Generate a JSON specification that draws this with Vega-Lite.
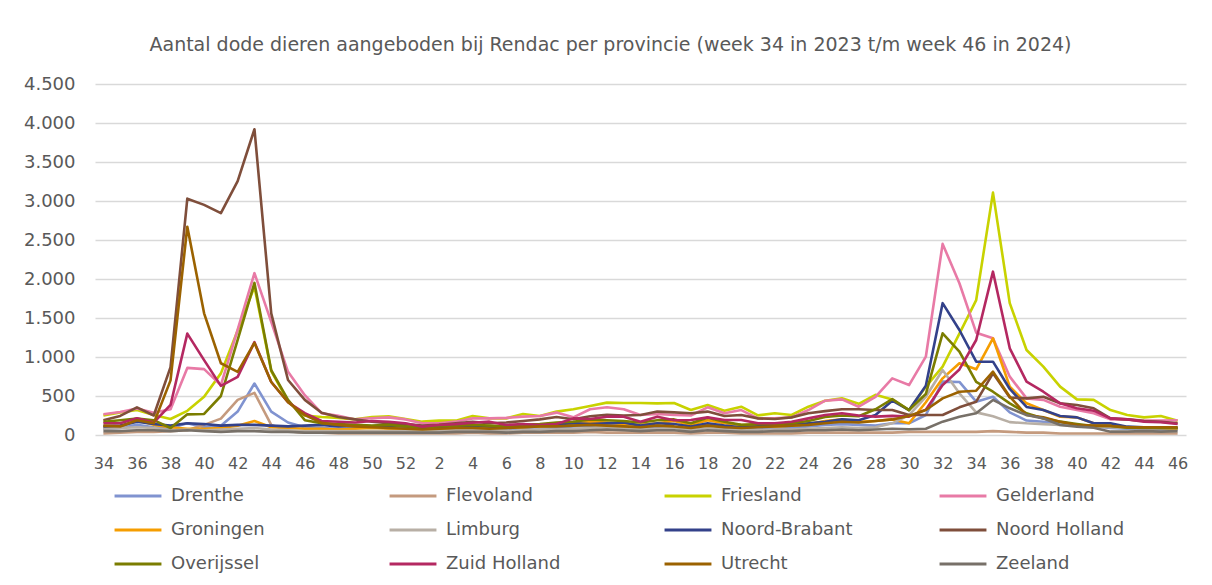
{
"$schema": "https://vega.github.io/schema/vega-lite/v6.json",
"width": 1091, "height": 351,
"autosize": {"type": "none"},
"padding": {"left": 95, "top": 84, "right": 26, "bottom": 150},
"background": "white",
"title": {"text": "Aantal dode dieren aangeboden bij Rendac per provincie (week 34 in 2023 t/m week 46 in 2024)", "font": "DejaVu Sans", "fontSize": 19, "fontWeight": "normal", "color": "#595959", "anchor": "middle", "frame": "group", "dx": -30, "offset": 20},
"data": {"values": [
{"week":"2023-34","provincie":"Drenthe","aantal":80},{"week":"2023-35","provincie":"Drenthe","aantal":90},{"week":"2023-36","provincie":"Drenthe","aantal":130},{"week":"2023-37","provincie":"Drenthe","aantal":100},{"week":"2023-38","provincie":"Drenthe","aantal":90},{"week":"2023-39","provincie":"Drenthe","aantal":150},{"week":"2023-40","provincie":"Drenthe","aantal":100},{"week":"2023-41","provincie":"Drenthe","aantal":120},{"week":"2023-42","provincie":"Drenthe","aantal":300},{"week":"2023-43","provincie":"Drenthe","aantal":660},{"week":"2023-44","provincie":"Drenthe","aantal":300},{"week":"2023-45","provincie":"Drenthe","aantal":160},{"week":"2023-46","provincie":"Drenthe","aantal":100},{"week":"2023-47","provincie":"Drenthe","aantal":90},{"week":"2023-48","provincie":"Drenthe","aantal":80},{"week":"2023-49","provincie":"Drenthe","aantal":90},{"week":"2023-50","provincie":"Drenthe","aantal":100},{"week":"2023-51","provincie":"Drenthe","aantal":90},{"week":"2023-52","provincie":"Drenthe","aantal":80},
{"week":"2024-01","provincie":"Drenthe","aantal":60},{"week":"2024-02","provincie":"Drenthe","aantal":70},{"week":"2024-03","provincie":"Drenthe","aantal":80},{"week":"2024-04","provincie":"Drenthe","aantal":90},{"week":"2024-05","provincie":"Drenthe","aantal":80},{"week":"2024-06","provincie":"Drenthe","aantal":70},{"week":"2024-07","provincie":"Drenthe","aantal":90},{"week":"2024-08","provincie":"Drenthe","aantal":100},{"week":"2024-09","provincie":"Drenthe","aantal":90},{"week":"2024-10","provincie":"Drenthe","aantal":110},{"week":"2024-11","provincie":"Drenthe","aantal":120},{"week":"2024-12","provincie":"Drenthe","aantal":130},{"week":"2024-13","provincie":"Drenthe","aantal":120},{"week":"2024-14","provincie":"Drenthe","aantal":90},{"week":"2024-15","provincie":"Drenthe","aantal":110},{"week":"2024-16","provincie":"Drenthe","aantal":100},{"week":"2024-17","provincie":"Drenthe","aantal":80},{"week":"2024-18","provincie":"Drenthe","aantal":130},{"week":"2024-19","provincie":"Drenthe","aantal":90},{"week":"2024-20","provincie":"Drenthe","aantal":80},{"week":"2024-21","provincie":"Drenthe","aantal":70},{"week":"2024-22","provincie":"Drenthe","aantal":80},{"week":"2024-23","provincie":"Drenthe","aantal":90},{"week":"2024-24","provincie":"Drenthe","aantal":110},{"week":"2024-25","provincie":"Drenthe","aantal":130},{"week":"2024-26","provincie":"Drenthe","aantal":140},{"week":"2024-27","provincie":"Drenthe","aantal":130},{"week":"2024-28","provincie":"Drenthe","aantal":120},{"week":"2024-29","provincie":"Drenthe","aantal":150},{"week":"2024-30","provincie":"Drenthe","aantal":150},{"week":"2024-31","provincie":"Drenthe","aantal":256},{"week":"2024-32","provincie":"Drenthe","aantal":684},{"week":"2024-33","provincie":"Drenthe","aantal":680},{"week":"2024-34","provincie":"Drenthe","aantal":427},{"week":"2024-35","provincie":"Drenthe","aantal":491},{"week":"2024-36","provincie":"Drenthe","aantal":290},{"week":"2024-37","provincie":"Drenthe","aantal":185},{"week":"2024-38","provincie":"Drenthe","aantal":170},{"week":"2024-39","provincie":"Drenthe","aantal":150},{"week":"2024-40","provincie":"Drenthe","aantal":130},{"week":"2024-41","provincie":"Drenthe","aantal":110},{"week":"2024-42","provincie":"Drenthe","aantal":90},{"week":"2024-43","provincie":"Drenthe","aantal":80},{"week":"2024-44","provincie":"Drenthe","aantal":70},{"week":"2024-45","provincie":"Drenthe","aantal":70},{"week":"2024-46","provincie":"Drenthe","aantal":70},
{"week":"2023-34","provincie":"Flevoland","aantal":20},{"week":"2023-35","provincie":"Flevoland","aantal":30},{"week":"2023-36","provincie":"Flevoland","aantal":40},{"week":"2023-37","provincie":"Flevoland","aantal":40},{"week":"2023-38","provincie":"Flevoland","aantal":50},{"week":"2023-39","provincie":"Flevoland","aantal":60},{"week":"2023-40","provincie":"Flevoland","aantal":130},{"week":"2023-41","provincie":"Flevoland","aantal":210},{"week":"2023-42","provincie":"Flevoland","aantal":450},{"week":"2023-43","provincie":"Flevoland","aantal":540},{"week":"2023-44","provincie":"Flevoland","aantal":130},{"week":"2023-45","provincie":"Flevoland","aantal":50},{"week":"2023-46","provincie":"Flevoland","aantal":30},{"week":"2023-47","provincie":"Flevoland","aantal":30},{"week":"2023-48","provincie":"Flevoland","aantal":20},{"week":"2023-49","provincie":"Flevoland","aantal":20},{"week":"2023-50","provincie":"Flevoland","aantal":20},{"week":"2023-51","provincie":"Flevoland","aantal":20},{"week":"2023-52","provincie":"Flevoland","aantal":20},
{"week":"2024-01","provincie":"Flevoland","aantal":20},{"week":"2024-02","provincie":"Flevoland","aantal":20},{"week":"2024-03","provincie":"Flevoland","aantal":20},{"week":"2024-04","provincie":"Flevoland","aantal":30},{"week":"2024-05","provincie":"Flevoland","aantal":20},{"week":"2024-06","provincie":"Flevoland","aantal":20},{"week":"2024-07","provincie":"Flevoland","aantal":30},{"week":"2024-08","provincie":"Flevoland","aantal":30},{"week":"2024-09","provincie":"Flevoland","aantal":30},{"week":"2024-10","provincie":"Flevoland","aantal":30},{"week":"2024-11","provincie":"Flevoland","aantal":40},{"week":"2024-12","provincie":"Flevoland","aantal":30},{"week":"2024-13","provincie":"Flevoland","aantal":30},{"week":"2024-14","provincie":"Flevoland","aantal":30},{"week":"2024-15","provincie":"Flevoland","aantal":30},{"week":"2024-16","provincie":"Flevoland","aantal":30},{"week":"2024-17","provincie":"Flevoland","aantal":20},{"week":"2024-18","provincie":"Flevoland","aantal":30},{"week":"2024-19","provincie":"Flevoland","aantal":30},{"week":"2024-20","provincie":"Flevoland","aantal":20},{"week":"2024-21","provincie":"Flevoland","aantal":20},{"week":"2024-22","provincie":"Flevoland","aantal":20},{"week":"2024-23","provincie":"Flevoland","aantal":20},{"week":"2024-24","provincie":"Flevoland","aantal":30},{"week":"2024-25","provincie":"Flevoland","aantal":30},{"week":"2024-26","provincie":"Flevoland","aantal":30},{"week":"2024-27","provincie":"Flevoland","aantal":30},{"week":"2024-28","provincie":"Flevoland","aantal":30},{"week":"2024-29","provincie":"Flevoland","aantal":30},{"week":"2024-30","provincie":"Flevoland","aantal":40},{"week":"2024-31","provincie":"Flevoland","aantal":40},{"week":"2024-32","provincie":"Flevoland","aantal":40},{"week":"2024-33","provincie":"Flevoland","aantal":40},{"week":"2024-34","provincie":"Flevoland","aantal":40},{"week":"2024-35","provincie":"Flevoland","aantal":50},{"week":"2024-36","provincie":"Flevoland","aantal":40},{"week":"2024-37","provincie":"Flevoland","aantal":30},{"week":"2024-38","provincie":"Flevoland","aantal":30},{"week":"2024-39","provincie":"Flevoland","aantal":20},{"week":"2024-40","provincie":"Flevoland","aantal":20},{"week":"2024-41","provincie":"Flevoland","aantal":20},{"week":"2024-42","provincie":"Flevoland","aantal":20},{"week":"2024-43","provincie":"Flevoland","aantal":20},{"week":"2024-44","provincie":"Flevoland","aantal":20},{"week":"2024-45","provincie":"Flevoland","aantal":20},{"week":"2024-46","provincie":"Flevoland","aantal":20},
{"week":"2023-34","provincie":"Friesland","aantal":250},{"week":"2023-35","provincie":"Friesland","aantal":290},{"week":"2023-36","provincie":"Friesland","aantal":320},{"week":"2023-37","provincie":"Friesland","aantal":256},{"week":"2023-38","provincie":"Friesland","aantal":205},{"week":"2023-39","provincie":"Friesland","aantal":310},{"week":"2023-40","provincie":"Friesland","aantal":490},{"week":"2023-41","provincie":"Friesland","aantal":790},{"week":"2023-42","provincie":"Friesland","aantal":1340},{"week":"2023-43","provincie":"Friesland","aantal":1900},{"week":"2023-44","provincie":"Friesland","aantal":820},{"week":"2023-45","provincie":"Friesland","aantal":430},{"week":"2023-46","provincie":"Friesland","aantal":250},{"week":"2023-47","provincie":"Friesland","aantal":230},{"week":"2023-48","provincie":"Friesland","aantal":220},{"week":"2023-49","provincie":"Friesland","aantal":200},{"week":"2023-50","provincie":"Friesland","aantal":230},{"week":"2023-51","provincie":"Friesland","aantal":240},{"week":"2023-52","provincie":"Friesland","aantal":205},
{"week":"2024-01","provincie":"Friesland","aantal":171},{"week":"2024-02","provincie":"Friesland","aantal":184},{"week":"2024-03","provincie":"Friesland","aantal":184},{"week":"2024-04","provincie":"Friesland","aantal":243},{"week":"2024-05","provincie":"Friesland","aantal":213},{"week":"2024-06","provincie":"Friesland","aantal":213},{"week":"2024-07","provincie":"Friesland","aantal":270},{"week":"2024-08","provincie":"Friesland","aantal":243},{"week":"2024-09","provincie":"Friesland","aantal":300},{"week":"2024-10","provincie":"Friesland","aantal":330},{"week":"2024-11","provincie":"Friesland","aantal":372},{"week":"2024-12","provincie":"Friesland","aantal":415},{"week":"2024-13","provincie":"Friesland","aantal":410},{"week":"2024-14","provincie":"Friesland","aantal":410},{"week":"2024-15","provincie":"Friesland","aantal":405},{"week":"2024-16","provincie":"Friesland","aantal":410},{"week":"2024-17","provincie":"Friesland","aantal":320},{"week":"2024-18","provincie":"Friesland","aantal":385},{"week":"2024-19","provincie":"Friesland","aantal":312},{"week":"2024-20","provincie":"Friesland","aantal":363},{"week":"2024-21","provincie":"Friesland","aantal":252},{"week":"2024-22","provincie":"Friesland","aantal":278},{"week":"2024-23","provincie":"Friesland","aantal":256},{"week":"2024-24","provincie":"Friesland","aantal":363},{"week":"2024-25","provincie":"Friesland","aantal":440},{"week":"2024-26","provincie":"Friesland","aantal":470},{"week":"2024-27","provincie":"Friesland","aantal":400},{"week":"2024-28","provincie":"Friesland","aantal":515},{"week":"2024-29","provincie":"Friesland","aantal":455},{"week":"2024-30","provincie":"Friesland","aantal":320},{"week":"2024-31","provincie":"Friesland","aantal":620},{"week":"2024-32","provincie":"Friesland","aantal":876},{"week":"2024-33","provincie":"Friesland","aantal":1300},{"week":"2024-34","provincie":"Friesland","aantal":1730},{"week":"2024-35","provincie":"Friesland","aantal":3107},{"week":"2024-36","provincie":"Friesland","aantal":1690},{"week":"2024-37","provincie":"Friesland","aantal":1090},{"week":"2024-38","provincie":"Friesland","aantal":876},{"week":"2024-39","provincie":"Friesland","aantal":620},{"week":"2024-40","provincie":"Friesland","aantal":457},{"week":"2024-41","provincie":"Friesland","aantal":450},{"week":"2024-42","provincie":"Friesland","aantal":320},{"week":"2024-43","provincie":"Friesland","aantal":256},{"week":"2024-44","provincie":"Friesland","aantal":226},{"week":"2024-45","provincie":"Friesland","aantal":243},{"week":"2024-46","provincie":"Friesland","aantal":184},
{"week":"2023-34","provincie":"Gelderland","aantal":265},{"week":"2023-35","provincie":"Gelderland","aantal":295},{"week":"2023-36","provincie":"Gelderland","aantal":340},{"week":"2023-37","provincie":"Gelderland","aantal":285},{"week":"2023-38","provincie":"Gelderland","aantal":330},{"week":"2023-39","provincie":"Gelderland","aantal":860},{"week":"2023-40","provincie":"Gelderland","aantal":845},{"week":"2023-41","provincie":"Gelderland","aantal":640},{"week":"2023-42","provincie":"Gelderland","aantal":1350},{"week":"2023-43","provincie":"Gelderland","aantal":2075},{"week":"2023-44","provincie":"Gelderland","aantal":1450},{"week":"2023-45","provincie":"Gelderland","aantal":810},{"week":"2023-46","provincie":"Gelderland","aantal":510},{"week":"2023-47","provincie":"Gelderland","aantal":280},{"week":"2023-48","provincie":"Gelderland","aantal":245},{"week":"2023-49","provincie":"Gelderland","aantal":200},{"week":"2023-50","provincie":"Gelderland","aantal":215},{"week":"2023-51","provincie":"Gelderland","aantal":226},{"week":"2023-52","provincie":"Gelderland","aantal":200},
{"week":"2024-01","provincie":"Gelderland","aantal":150},{"week":"2024-02","provincie":"Gelderland","aantal":150},{"week":"2024-03","provincie":"Gelderland","aantal":171},{"week":"2024-04","provincie":"Gelderland","aantal":213},{"week":"2024-05","provincie":"Gelderland","aantal":213},{"week":"2024-06","provincie":"Gelderland","aantal":220},{"week":"2024-07","provincie":"Gelderland","aantal":235},{"week":"2024-08","provincie":"Gelderland","aantal":243},{"week":"2024-09","provincie":"Gelderland","aantal":287},{"week":"2024-10","provincie":"Gelderland","aantal":226},{"week":"2024-11","provincie":"Gelderland","aantal":330},{"week":"2024-12","provincie":"Gelderland","aantal":355},{"week":"2024-13","provincie":"Gelderland","aantal":330},{"week":"2024-14","provincie":"Gelderland","aantal":256},{"week":"2024-15","provincie":"Gelderland","aantal":270},{"week":"2024-16","provincie":"Gelderland","aantal":256},{"week":"2024-17","provincie":"Gelderland","aantal":250},{"week":"2024-18","provincie":"Gelderland","aantal":355},{"week":"2024-19","provincie":"Gelderland","aantal":278},{"week":"2024-20","provincie":"Gelderland","aantal":320},{"week":"2024-21","provincie":"Gelderland","aantal":213},{"week":"2024-22","provincie":"Gelderland","aantal":215},{"week":"2024-23","provincie":"Gelderland","aantal":226},{"week":"2024-24","provincie":"Gelderland","aantal":320},{"week":"2024-25","provincie":"Gelderland","aantal":440},{"week":"2024-26","provincie":"Gelderland","aantal":457},{"week":"2024-27","provincie":"Gelderland","aantal":363},{"week":"2024-28","provincie":"Gelderland","aantal":490},{"week":"2024-29","provincie":"Gelderland","aantal":726},{"week":"2024-30","provincie":"Gelderland","aantal":640},{"week":"2024-31","provincie":"Gelderland","aantal":1004},{"week":"2024-32","provincie":"Gelderland","aantal":2450},{"week":"2024-33","provincie":"Gelderland","aantal":1945},{"week":"2024-34","provincie":"Gelderland","aantal":1312},{"week":"2024-35","provincie":"Gelderland","aantal":1240},{"week":"2024-36","provincie":"Gelderland","aantal":748},{"week":"2024-37","provincie":"Gelderland","aantal":470},{"week":"2024-38","provincie":"Gelderland","aantal":450},{"week":"2024-39","provincie":"Gelderland","aantal":363},{"week":"2024-40","provincie":"Gelderland","aantal":320},{"week":"2024-41","provincie":"Gelderland","aantal":280},{"week":"2024-42","provincie":"Gelderland","aantal":200},{"week":"2024-43","provincie":"Gelderland","aantal":200},{"week":"2024-44","provincie":"Gelderland","aantal":184},{"week":"2024-45","provincie":"Gelderland","aantal":184},{"week":"2024-46","provincie":"Gelderland","aantal":190},
{"week":"2023-34","provincie":"Groningen","aantal":100},{"week":"2023-35","provincie":"Groningen","aantal":110},{"week":"2023-36","provincie":"Groningen","aantal":190},{"week":"2023-37","provincie":"Groningen","aantal":130},{"week":"2023-38","provincie":"Groningen","aantal":100},{"week":"2023-39","provincie":"Groningen","aantal":80},{"week":"2023-40","provincie":"Groningen","aantal":80},{"week":"2023-41","provincie":"Groningen","aantal":90},{"week":"2023-42","provincie":"Groningen","aantal":120},{"week":"2023-43","provincie":"Groningen","aantal":180},{"week":"2023-44","provincie":"Groningen","aantal":100},{"week":"2023-45","provincie":"Groningen","aantal":90},{"week":"2023-46","provincie":"Groningen","aantal":80},{"week":"2023-47","provincie":"Groningen","aantal":80},{"week":"2023-48","provincie":"Groningen","aantal":70},{"week":"2023-49","provincie":"Groningen","aantal":80},{"week":"2023-50","provincie":"Groningen","aantal":90},{"week":"2023-51","provincie":"Groningen","aantal":80},{"week":"2023-52","provincie":"Groningen","aantal":70},
{"week":"2024-01","provincie":"Groningen","aantal":70},{"week":"2024-02","provincie":"Groningen","aantal":80},{"week":"2024-03","provincie":"Groningen","aantal":90},{"week":"2024-04","provincie":"Groningen","aantal":100},{"week":"2024-05","provincie":"Groningen","aantal":90},{"week":"2024-06","provincie":"Groningen","aantal":90},{"week":"2024-07","provincie":"Groningen","aantal":100},{"week":"2024-08","provincie":"Groningen","aantal":110},{"week":"2024-09","provincie":"Groningen","aantal":120},{"week":"2024-10","provincie":"Groningen","aantal":150},{"week":"2024-11","provincie":"Groningen","aantal":170},{"week":"2024-12","provincie":"Groningen","aantal":160},{"week":"2024-13","provincie":"Groningen","aantal":140},{"week":"2024-14","provincie":"Groningen","aantal":130},{"week":"2024-15","provincie":"Groningen","aantal":150},{"week":"2024-16","provincie":"Groningen","aantal":180},{"week":"2024-17","provincie":"Groningen","aantal":130},{"week":"2024-18","provincie":"Groningen","aantal":190},{"week":"2024-19","provincie":"Groningen","aantal":150},{"week":"2024-20","provincie":"Groningen","aantal":130},{"week":"2024-21","provincie":"Groningen","aantal":120},{"week":"2024-22","provincie":"Groningen","aantal":110},{"week":"2024-23","provincie":"Groningen","aantal":120},{"week":"2024-24","provincie":"Groningen","aantal":140},{"week":"2024-25","provincie":"Groningen","aantal":180},{"week":"2024-26","provincie":"Groningen","aantal":200},{"week":"2024-27","provincie":"Groningen","aantal":170},{"week":"2024-28","provincie":"Groningen","aantal":180},{"week":"2024-29","provincie":"Groningen","aantal":200},{"week":"2024-30","provincie":"Groningen","aantal":150},{"week":"2024-31","provincie":"Groningen","aantal":420},{"week":"2024-32","provincie":"Groningen","aantal":726},{"week":"2024-33","provincie":"Groningen","aantal":919},{"week":"2024-34","provincie":"Groningen","aantal":842},{"week":"2024-35","provincie":"Groningen","aantal":1240},{"week":"2024-36","provincie":"Groningen","aantal":620},{"week":"2024-37","provincie":"Groningen","aantal":406},{"week":"2024-38","provincie":"Groningen","aantal":320},{"week":"2024-39","provincie":"Groningen","aantal":235},{"week":"2024-40","provincie":"Groningen","aantal":226},{"week":"2024-41","provincie":"Groningen","aantal":150},{"week":"2024-42","provincie":"Groningen","aantal":141},{"week":"2024-43","provincie":"Groningen","aantal":93},{"week":"2024-44","provincie":"Groningen","aantal":90},{"week":"2024-45","provincie":"Groningen","aantal":90},{"week":"2024-46","provincie":"Groningen","aantal":80},
{"week":"2023-34","provincie":"Limburg","aantal":80},{"week":"2023-35","provincie":"Limburg","aantal":90},{"week":"2023-36","provincie":"Limburg","aantal":100},{"week":"2023-37","provincie":"Limburg","aantal":90},{"week":"2023-38","provincie":"Limburg","aantal":60},{"week":"2023-39","provincie":"Limburg","aantal":70},{"week":"2023-40","provincie":"Limburg","aantal":60},{"week":"2023-41","provincie":"Limburg","aantal":70},{"week":"2023-42","provincie":"Limburg","aantal":80},{"week":"2023-43","provincie":"Limburg","aantal":90},{"week":"2023-44","provincie":"Limburg","aantal":70},{"week":"2023-45","provincie":"Limburg","aantal":60},{"week":"2023-46","provincie":"Limburg","aantal":50},{"week":"2023-47","provincie":"Limburg","aantal":50},{"week":"2023-48","provincie":"Limburg","aantal":50},{"week":"2023-49","provincie":"Limburg","aantal":50},{"week":"2023-50","provincie":"Limburg","aantal":50},{"week":"2023-51","provincie":"Limburg","aantal":50},{"week":"2023-52","provincie":"Limburg","aantal":50},
{"week":"2024-01","provincie":"Limburg","aantal":50},{"week":"2024-02","provincie":"Limburg","aantal":50},{"week":"2024-03","provincie":"Limburg","aantal":60},{"week":"2024-04","provincie":"Limburg","aantal":60},{"week":"2024-05","provincie":"Limburg","aantal":60},{"week":"2024-06","provincie":"Limburg","aantal":50},{"week":"2024-07","provincie":"Limburg","aantal":60},{"week":"2024-08","provincie":"Limburg","aantal":70},{"week":"2024-09","provincie":"Limburg","aantal":70},{"week":"2024-10","provincie":"Limburg","aantal":80},{"week":"2024-11","provincie":"Limburg","aantal":90},{"week":"2024-12","provincie":"Limburg","aantal":100},{"week":"2024-13","provincie":"Limburg","aantal":90},{"week":"2024-14","provincie":"Limburg","aantal":70},{"week":"2024-15","provincie":"Limburg","aantal":80},{"week":"2024-16","provincie":"Limburg","aantal":90},{"week":"2024-17","provincie":"Limburg","aantal":60},{"week":"2024-18","provincie":"Limburg","aantal":90},{"week":"2024-19","provincie":"Limburg","aantal":70},{"week":"2024-20","provincie":"Limburg","aantal":60},{"week":"2024-21","provincie":"Limburg","aantal":60},{"week":"2024-22","provincie":"Limburg","aantal":70},{"week":"2024-23","provincie":"Limburg","aantal":70},{"week":"2024-24","provincie":"Limburg","aantal":80},{"week":"2024-25","provincie":"Limburg","aantal":90},{"week":"2024-26","provincie":"Limburg","aantal":100},{"week":"2024-27","provincie":"Limburg","aantal":90},{"week":"2024-28","provincie":"Limburg","aantal":100},{"week":"2024-29","provincie":"Limburg","aantal":150},{"week":"2024-30","provincie":"Limburg","aantal":256},{"week":"2024-31","provincie":"Limburg","aantal":490},{"week":"2024-32","provincie":"Limburg","aantal":833},{"week":"2024-33","provincie":"Limburg","aantal":534},{"week":"2024-34","provincie":"Limburg","aantal":290},{"week":"2024-35","provincie":"Limburg","aantal":240},{"week":"2024-36","provincie":"Limburg","aantal":165},{"week":"2024-37","provincie":"Limburg","aantal":150},{"week":"2024-38","provincie":"Limburg","aantal":140},{"week":"2024-39","provincie":"Limburg","aantal":130},{"week":"2024-40","provincie":"Limburg","aantal":120},{"week":"2024-41","provincie":"Limburg","aantal":110},{"week":"2024-42","provincie":"Limburg","aantal":100},{"week":"2024-43","provincie":"Limburg","aantal":90},{"week":"2024-44","provincie":"Limburg","aantal":90},{"week":"2024-45","provincie":"Limburg","aantal":90},{"week":"2024-46","provincie":"Limburg","aantal":90},
{"week":"2023-34","provincie":"Noord-Brabant","aantal":110},{"week":"2023-35","provincie":"Noord-Brabant","aantal":120},{"week":"2023-36","provincie":"Noord-Brabant","aantal":170},{"week":"2023-37","provincie":"Noord-Brabant","aantal":140},{"week":"2023-38","provincie":"Noord-Brabant","aantal":120},{"week":"2023-39","provincie":"Noord-Brabant","aantal":150},{"week":"2023-40","provincie":"Noord-Brabant","aantal":140},{"week":"2023-41","provincie":"Noord-Brabant","aantal":120},{"week":"2023-42","provincie":"Noord-Brabant","aantal":130},{"week":"2023-43","provincie":"Noord-Brabant","aantal":130},{"week":"2023-44","provincie":"Noord-Brabant","aantal":120},{"week":"2023-45","provincie":"Noord-Brabant","aantal":110},{"week":"2023-46","provincie":"Noord-Brabant","aantal":120},{"week":"2023-47","provincie":"Noord-Brabant","aantal":130},{"week":"2023-48","provincie":"Noord-Brabant","aantal":110},{"week":"2023-49","provincie":"Noord-Brabant","aantal":120},{"week":"2023-50","provincie":"Noord-Brabant","aantal":110},{"week":"2023-51","provincie":"Noord-Brabant","aantal":120},{"week":"2023-52","provincie":"Noord-Brabant","aantal":110},
{"week":"2024-01","provincie":"Noord-Brabant","aantal":90},{"week":"2024-02","provincie":"Noord-Brabant","aantal":100},{"week":"2024-03","provincie":"Noord-Brabant","aantal":110},{"week":"2024-04","provincie":"Noord-Brabant","aantal":120},{"week":"2024-05","provincie":"Noord-Brabant","aantal":110},{"week":"2024-06","provincie":"Noord-Brabant","aantal":100},{"week":"2024-07","provincie":"Noord-Brabant","aantal":120},{"week":"2024-08","provincie":"Noord-Brabant","aantal":130},{"week":"2024-09","provincie":"Noord-Brabant","aantal":140},{"week":"2024-10","provincie":"Noord-Brabant","aantal":150},{"week":"2024-11","provincie":"Noord-Brabant","aantal":140},{"week":"2024-12","provincie":"Noord-Brabant","aantal":150},{"week":"2024-13","provincie":"Noord-Brabant","aantal":160},{"week":"2024-14","provincie":"Noord-Brabant","aantal":120},{"week":"2024-15","provincie":"Noord-Brabant","aantal":150},{"week":"2024-16","provincie":"Noord-Brabant","aantal":140},{"week":"2024-17","provincie":"Noord-Brabant","aantal":110},{"week":"2024-18","provincie":"Noord-Brabant","aantal":150},{"week":"2024-19","provincie":"Noord-Brabant","aantal":120},{"week":"2024-20","provincie":"Noord-Brabant","aantal":100},{"week":"2024-21","provincie":"Noord-Brabant","aantal":110},{"week":"2024-22","provincie":"Noord-Brabant","aantal":120},{"week":"2024-23","provincie":"Noord-Brabant","aantal":130},{"week":"2024-24","provincie":"Noord-Brabant","aantal":150},{"week":"2024-25","provincie":"Noord-Brabant","aantal":170},{"week":"2024-26","provincie":"Noord-Brabant","aantal":200},{"week":"2024-27","provincie":"Noord-Brabant","aantal":190},{"week":"2024-28","provincie":"Noord-Brabant","aantal":256},{"week":"2024-29","provincie":"Noord-Brabant","aantal":440},{"week":"2024-30","provincie":"Noord-Brabant","aantal":320},{"week":"2024-31","provincie":"Noord-Brabant","aantal":630},{"week":"2024-32","provincie":"Noord-Brabant","aantal":1690},{"week":"2024-33","provincie":"Noord-Brabant","aantal":1346},{"week":"2024-34","provincie":"Noord-Brabant","aantal":940},{"week":"2024-35","provincie":"Noord-Brabant","aantal":940},{"week":"2024-36","provincie":"Noord-Brabant","aantal":590},{"week":"2024-37","provincie":"Noord-Brabant","aantal":360},{"week":"2024-38","provincie":"Noord-Brabant","aantal":320},{"week":"2024-39","provincie":"Noord-Brabant","aantal":243},{"week":"2024-40","provincie":"Noord-Brabant","aantal":226},{"week":"2024-41","provincie":"Noord-Brabant","aantal":150},{"week":"2024-42","provincie":"Noord-Brabant","aantal":150},{"week":"2024-43","provincie":"Noord-Brabant","aantal":107},{"week":"2024-44","provincie":"Noord-Brabant","aantal":100},{"week":"2024-45","provincie":"Noord-Brabant","aantal":93},{"week":"2024-46","provincie":"Noord-Brabant","aantal":93},
{"week":"2023-34","provincie":"Noord Holland","aantal":190},{"week":"2023-35","provincie":"Noord Holland","aantal":245},{"week":"2023-36","provincie":"Noord Holland","aantal":355},{"week":"2023-37","provincie":"Noord Holland","aantal":250},{"week":"2023-38","provincie":"Noord Holland","aantal":870},{"week":"2023-39","provincie":"Noord Holland","aantal":3030},{"week":"2023-40","provincie":"Noord Holland","aantal":2950},{"week":"2023-41","provincie":"Noord Holland","aantal":2845},{"week":"2023-42","provincie":"Noord Holland","aantal":3255},{"week":"2023-43","provincie":"Noord Holland","aantal":3920},{"week":"2023-44","provincie":"Noord Holland","aantal":1560},{"week":"2023-45","provincie":"Noord Holland","aantal":705},{"week":"2023-46","provincie":"Noord Holland","aantal":450},{"week":"2023-47","provincie":"Noord Holland","aantal":286},{"week":"2023-48","provincie":"Noord Holland","aantal":230},{"week":"2023-49","provincie":"Noord Holland","aantal":200},{"week":"2023-50","provincie":"Noord Holland","aantal":170},{"week":"2023-51","provincie":"Noord Holland","aantal":150},{"week":"2023-52","provincie":"Noord Holland","aantal":140},
{"week":"2024-01","provincie":"Noord Holland","aantal":120},{"week":"2024-02","provincie":"Noord Holland","aantal":130},{"week":"2024-03","provincie":"Noord Holland","aantal":150},{"week":"2024-04","provincie":"Noord Holland","aantal":170},{"week":"2024-05","provincie":"Noord Holland","aantal":150},{"week":"2024-06","provincie":"Noord Holland","aantal":160},{"week":"2024-07","provincie":"Noord Holland","aantal":180},{"week":"2024-08","provincie":"Noord Holland","aantal":200},{"week":"2024-09","provincie":"Noord Holland","aantal":230},{"week":"2024-10","provincie":"Noord Holland","aantal":201},{"week":"2024-11","provincie":"Noord Holland","aantal":240},{"week":"2024-12","provincie":"Noord Holland","aantal":260},{"week":"2024-13","provincie":"Noord Holland","aantal":250},{"week":"2024-14","provincie":"Noord Holland","aantal":256},{"week":"2024-15","provincie":"Noord Holland","aantal":300},{"week":"2024-16","provincie":"Noord Holland","aantal":290},{"week":"2024-17","provincie":"Noord Holland","aantal":278},{"week":"2024-18","provincie":"Noord Holland","aantal":300},{"week":"2024-19","provincie":"Noord Holland","aantal":243},{"week":"2024-20","provincie":"Noord Holland","aantal":256},{"week":"2024-21","provincie":"Noord Holland","aantal":213},{"week":"2024-22","provincie":"Noord Holland","aantal":205},{"week":"2024-23","provincie":"Noord Holland","aantal":226},{"week":"2024-24","provincie":"Noord Holland","aantal":278},{"week":"2024-25","provincie":"Noord Holland","aantal":306},{"week":"2024-26","provincie":"Noord Holland","aantal":330},{"week":"2024-27","provincie":"Noord Holland","aantal":330},{"week":"2024-28","provincie":"Noord Holland","aantal":320},{"week":"2024-29","provincie":"Noord Holland","aantal":320},{"week":"2024-30","provincie":"Noord Holland","aantal":256},{"week":"2024-31","provincie":"Noord Holland","aantal":256},{"week":"2024-32","provincie":"Noord Holland","aantal":256},{"week":"2024-33","provincie":"Noord Holland","aantal":355},{"week":"2024-34","provincie":"Noord Holland","aantal":427},{"week":"2024-35","provincie":"Noord Holland","aantal":790},{"week":"2024-36","provincie":"Noord Holland","aantal":480},{"week":"2024-37","provincie":"Noord Holland","aantal":470},{"week":"2024-38","provincie":"Noord Holland","aantal":491},{"week":"2024-39","provincie":"Noord Holland","aantal":406},{"week":"2024-40","provincie":"Noord Holland","aantal":385},{"week":"2024-41","provincie":"Noord Holland","aantal":342},{"week":"2024-42","provincie":"Noord Holland","aantal":213},{"week":"2024-43","provincie":"Noord Holland","aantal":200},{"week":"2024-44","provincie":"Noord Holland","aantal":180},{"week":"2024-45","provincie":"Noord Holland","aantal":170},{"week":"2024-46","provincie":"Noord Holland","aantal":150},
{"week":"2023-34","provincie":"Overijssel","aantal":170},{"week":"2023-35","provincie":"Overijssel","aantal":190},{"week":"2023-36","provincie":"Overijssel","aantal":210},{"week":"2023-37","provincie":"Overijssel","aantal":190},{"week":"2023-38","provincie":"Overijssel","aantal":90},{"week":"2023-39","provincie":"Overijssel","aantal":265},{"week":"2023-40","provincie":"Overijssel","aantal":270},{"week":"2023-41","provincie":"Overijssel","aantal":500},{"week":"2023-42","provincie":"Overijssel","aantal":1220},{"week":"2023-43","provincie":"Overijssel","aantal":1950},{"week":"2023-44","provincie":"Overijssel","aantal":830},{"week":"2023-45","provincie":"Overijssel","aantal":450},{"week":"2023-46","provincie":"Overijssel","aantal":190},{"week":"2023-47","provincie":"Overijssel","aantal":150},{"week":"2023-48","provincie":"Overijssel","aantal":140},{"week":"2023-49","provincie":"Overijssel","aantal":130},{"week":"2023-50","provincie":"Overijssel","aantal":120},{"week":"2023-51","provincie":"Overijssel","aantal":130},{"week":"2023-52","provincie":"Overijssel","aantal":110},
{"week":"2024-01","provincie":"Overijssel","aantal":100},{"week":"2024-02","provincie":"Overijssel","aantal":110},{"week":"2024-03","provincie":"Overijssel","aantal":120},{"week":"2024-04","provincie":"Overijssel","aantal":130},{"week":"2024-05","provincie":"Overijssel","aantal":120},{"week":"2024-06","provincie":"Overijssel","aantal":110},{"week":"2024-07","provincie":"Overijssel","aantal":130},{"week":"2024-08","provincie":"Overijssel","aantal":140},{"week":"2024-09","provincie":"Overijssel","aantal":160},{"week":"2024-10","provincie":"Overijssel","aantal":170},{"week":"2024-11","provincie":"Overijssel","aantal":200},{"week":"2024-12","provincie":"Overijssel","aantal":190},{"week":"2024-13","provincie":"Overijssel","aantal":180},{"week":"2024-14","provincie":"Overijssel","aantal":160},{"week":"2024-15","provincie":"Overijssel","aantal":190},{"week":"2024-16","provincie":"Overijssel","aantal":200},{"week":"2024-17","provincie":"Overijssel","aantal":150},{"week":"2024-18","provincie":"Overijssel","aantal":220},{"week":"2024-19","provincie":"Overijssel","aantal":170},{"week":"2024-20","provincie":"Overijssel","aantal":130},{"week":"2024-21","provincie":"Overijssel","aantal":140},{"week":"2024-22","provincie":"Overijssel","aantal":140},{"week":"2024-23","provincie":"Overijssel","aantal":150},{"week":"2024-24","provincie":"Overijssel","aantal":180},{"week":"2024-25","provincie":"Overijssel","aantal":230},{"week":"2024-26","provincie":"Overijssel","aantal":250},{"week":"2024-27","provincie":"Overijssel","aantal":240},{"week":"2024-28","provincie":"Overijssel","aantal":330},{"week":"2024-29","provincie":"Overijssel","aantal":460},{"week":"2024-30","provincie":"Overijssel","aantal":320},{"week":"2024-31","provincie":"Overijssel","aantal":525},{"week":"2024-32","provincie":"Overijssel","aantal":1303},{"week":"2024-33","provincie":"Overijssel","aantal":1068},{"week":"2024-34","provincie":"Overijssel","aantal":680},{"week":"2024-35","provincie":"Overijssel","aantal":555},{"week":"2024-36","provincie":"Overijssel","aantal":406},{"week":"2024-37","provincie":"Overijssel","aantal":278},{"week":"2024-38","provincie":"Overijssel","aantal":213},{"week":"2024-39","provincie":"Overijssel","aantal":171},{"week":"2024-40","provincie":"Overijssel","aantal":141},{"week":"2024-41","provincie":"Overijssel","aantal":115},{"week":"2024-42","provincie":"Overijssel","aantal":115},{"week":"2024-43","provincie":"Overijssel","aantal":93},{"week":"2024-44","provincie":"Overijssel","aantal":93},{"week":"2024-45","provincie":"Overijssel","aantal":90},{"week":"2024-46","provincie":"Overijssel","aantal":90},
{"week":"2023-34","provincie":"Zuid Holland","aantal":150},{"week":"2023-35","provincie":"Zuid Holland","aantal":150},{"week":"2023-36","provincie":"Zuid Holland","aantal":215},{"week":"2023-37","provincie":"Zuid Holland","aantal":160},{"week":"2023-38","provincie":"Zuid Holland","aantal":385},{"week":"2023-39","provincie":"Zuid Holland","aantal":1300},{"week":"2023-40","provincie":"Zuid Holland","aantal":960},{"week":"2023-41","provincie":"Zuid Holland","aantal":630},{"week":"2023-42","provincie":"Zuid Holland","aantal":745},{"week":"2023-43","provincie":"Zuid Holland","aantal":1190},{"week":"2023-44","provincie":"Zuid Holland","aantal":680},{"week":"2023-45","provincie":"Zuid Holland","aantal":420},{"week":"2023-46","provincie":"Zuid Holland","aantal":280},{"week":"2023-47","provincie":"Zuid Holland","aantal":180},{"week":"2023-48","provincie":"Zuid Holland","aantal":170},{"week":"2023-49","provincie":"Zuid Holland","aantal":160},{"week":"2023-50","provincie":"Zuid Holland","aantal":180},{"week":"2023-51","provincie":"Zuid Holland","aantal":170},{"week":"2023-52","provincie":"Zuid Holland","aantal":150},
{"week":"2024-01","provincie":"Zuid Holland","aantal":107},{"week":"2024-02","provincie":"Zuid Holland","aantal":128},{"week":"2024-03","provincie":"Zuid Holland","aantal":140},{"week":"2024-04","provincie":"Zuid Holland","aantal":158},{"week":"2024-05","provincie":"Zuid Holland","aantal":171},{"week":"2024-06","provincie":"Zuid Holland","aantal":128},{"week":"2024-07","provincie":"Zuid Holland","aantal":141},{"week":"2024-08","provincie":"Zuid Holland","aantal":128},{"week":"2024-09","provincie":"Zuid Holland","aantal":140},{"week":"2024-10","provincie":"Zuid Holland","aantal":213},{"week":"2024-11","provincie":"Zuid Holland","aantal":205},{"week":"2024-12","provincie":"Zuid Holland","aantal":235},{"week":"2024-13","provincie":"Zuid Holland","aantal":235},{"week":"2024-14","provincie":"Zuid Holland","aantal":171},{"week":"2024-15","provincie":"Zuid Holland","aantal":235},{"week":"2024-16","provincie":"Zuid Holland","aantal":190},{"week":"2024-17","provincie":"Zuid Holland","aantal":192},{"week":"2024-18","provincie":"Zuid Holland","aantal":226},{"week":"2024-19","provincie":"Zuid Holland","aantal":192},{"week":"2024-20","provincie":"Zuid Holland","aantal":192},{"week":"2024-21","provincie":"Zuid Holland","aantal":150},{"week":"2024-22","provincie":"Zuid Holland","aantal":150},{"week":"2024-23","provincie":"Zuid Holland","aantal":170},{"week":"2024-24","provincie":"Zuid Holland","aantal":213},{"week":"2024-25","provincie":"Zuid Holland","aantal":256},{"week":"2024-26","provincie":"Zuid Holland","aantal":278},{"week":"2024-27","provincie":"Zuid Holland","aantal":250},{"week":"2024-28","provincie":"Zuid Holland","aantal":235},{"week":"2024-29","provincie":"Zuid Holland","aantal":245},{"week":"2024-30","provincie":"Zuid Holland","aantal":235},{"week":"2024-31","provincie":"Zuid Holland","aantal":325},{"week":"2024-32","provincie":"Zuid Holland","aantal":640},{"week":"2024-33","provincie":"Zuid Holland","aantal":840},{"week":"2024-34","provincie":"Zuid Holland","aantal":1218},{"week":"2024-35","provincie":"Zuid Holland","aantal":2094},{"week":"2024-36","provincie":"Zuid Holland","aantal":1111},{"week":"2024-37","provincie":"Zuid Holland","aantal":684},{"week":"2024-38","provincie":"Zuid Holland","aantal":555},{"week":"2024-39","provincie":"Zuid Holland","aantal":406},{"week":"2024-40","provincie":"Zuid Holland","aantal":342},{"week":"2024-41","provincie":"Zuid Holland","aantal":312},{"week":"2024-42","provincie":"Zuid Holland","aantal":213},{"week":"2024-43","provincie":"Zuid Holland","aantal":200},{"week":"2024-44","provincie":"Zuid Holland","aantal":171},{"week":"2024-45","provincie":"Zuid Holland","aantal":164},{"week":"2024-46","provincie":"Zuid Holland","aantal":141},
{"week":"2023-34","provincie":"Utrecht","aantal":120},{"week":"2023-35","provincie":"Utrecht","aantal":110},{"week":"2023-36","provincie":"Utrecht","aantal":190},{"week":"2023-37","provincie":"Utrecht","aantal":150},{"week":"2023-38","provincie":"Utrecht","aantal":700},{"week":"2023-39","provincie":"Utrecht","aantal":2670},{"week":"2023-40","provincie":"Utrecht","aantal":1560},{"week":"2023-41","provincie":"Utrecht","aantal":920},{"week":"2023-42","provincie":"Utrecht","aantal":810},{"week":"2023-43","provincie":"Utrecht","aantal":1180},{"week":"2023-44","provincie":"Utrecht","aantal":680},{"week":"2023-45","provincie":"Utrecht","aantal":420},{"week":"2023-46","provincie":"Utrecht","aantal":255},{"week":"2023-47","provincie":"Utrecht","aantal":155},{"week":"2023-48","provincie":"Utrecht","aantal":130},{"week":"2023-49","provincie":"Utrecht","aantal":110},{"week":"2023-50","provincie":"Utrecht","aantal":100},{"week":"2023-51","provincie":"Utrecht","aantal":90},{"week":"2023-52","provincie":"Utrecht","aantal":80},
{"week":"2024-01","provincie":"Utrecht","aantal":70},{"week":"2024-02","provincie":"Utrecht","aantal":80},{"week":"2024-03","provincie":"Utrecht","aantal":90},{"week":"2024-04","provincie":"Utrecht","aantal":90},{"week":"2024-05","provincie":"Utrecht","aantal":80},{"week":"2024-06","provincie":"Utrecht","aantal":90},{"week":"2024-07","provincie":"Utrecht","aantal":100},{"week":"2024-08","provincie":"Utrecht","aantal":110},{"week":"2024-09","provincie":"Utrecht","aantal":110},{"week":"2024-10","provincie":"Utrecht","aantal":120},{"week":"2024-11","provincie":"Utrecht","aantal":130},{"week":"2024-12","provincie":"Utrecht","aantal":120},{"week":"2024-13","provincie":"Utrecht","aantal":110},{"week":"2024-14","provincie":"Utrecht","aantal":100},{"week":"2024-15","provincie":"Utrecht","aantal":120},{"week":"2024-16","provincie":"Utrecht","aantal":110},{"week":"2024-17","provincie":"Utrecht","aantal":90},{"week":"2024-18","provincie":"Utrecht","aantal":120},{"week":"2024-19","provincie":"Utrecht","aantal":100},{"week":"2024-20","provincie":"Utrecht","aantal":90},{"week":"2024-21","provincie":"Utrecht","aantal":100},{"week":"2024-22","provincie":"Utrecht","aantal":110},{"week":"2024-23","provincie":"Utrecht","aantal":120},{"week":"2024-24","provincie":"Utrecht","aantal":130},{"week":"2024-25","provincie":"Utrecht","aantal":150},{"week":"2024-26","provincie":"Utrecht","aantal":170},{"week":"2024-27","provincie":"Utrecht","aantal":160},{"week":"2024-28","provincie":"Utrecht","aantal":180},{"week":"2024-29","provincie":"Utrecht","aantal":200},{"week":"2024-30","provincie":"Utrecht","aantal":243},{"week":"2024-31","provincie":"Utrecht","aantal":320},{"week":"2024-32","provincie":"Utrecht","aantal":470},{"week":"2024-33","provincie":"Utrecht","aantal":555},{"week":"2024-34","provincie":"Utrecht","aantal":568},{"week":"2024-35","provincie":"Utrecht","aantal":812},{"week":"2024-36","provincie":"Utrecht","aantal":491},{"week":"2024-37","provincie":"Utrecht","aantal":256},{"week":"2024-38","provincie":"Utrecht","aantal":226},{"week":"2024-39","provincie":"Utrecht","aantal":171},{"week":"2024-40","provincie":"Utrecht","aantal":128},{"week":"2024-41","provincie":"Utrecht","aantal":120},{"week":"2024-42","provincie":"Utrecht","aantal":115},{"week":"2024-43","provincie":"Utrecht","aantal":100},{"week":"2024-44","provincie":"Utrecht","aantal":100},{"week":"2024-45","provincie":"Utrecht","aantal":100},{"week":"2024-46","provincie":"Utrecht","aantal":100},
{"week":"2023-34","provincie":"Zeeland","aantal":50},{"week":"2023-35","provincie":"Zeeland","aantal":50},{"week":"2023-36","provincie":"Zeeland","aantal":60},{"week":"2023-37","provincie":"Zeeland","aantal":60},{"week":"2023-38","provincie":"Zeeland","aantal":50},{"week":"2023-39","provincie":"Zeeland","aantal":60},{"week":"2023-40","provincie":"Zeeland","aantal":50},{"week":"2023-41","provincie":"Zeeland","aantal":40},{"week":"2023-42","provincie":"Zeeland","aantal":50},{"week":"2023-43","provincie":"Zeeland","aantal":50},{"week":"2023-44","provincie":"Zeeland","aantal":40},{"week":"2023-45","provincie":"Zeeland","aantal":40},{"week":"2023-46","provincie":"Zeeland","aantal":30},{"week":"2023-47","provincie":"Zeeland","aantal":30},{"week":"2023-48","provincie":"Zeeland","aantal":30},{"week":"2023-49","provincie":"Zeeland","aantal":30},{"week":"2023-50","provincie":"Zeeland","aantal":30},{"week":"2023-51","provincie":"Zeeland","aantal":30},{"week":"2023-52","provincie":"Zeeland","aantal":30},
{"week":"2024-01","provincie":"Zeeland","aantal":30},{"week":"2024-02","provincie":"Zeeland","aantal":30},{"week":"2024-03","provincie":"Zeeland","aantal":40},{"week":"2024-04","provincie":"Zeeland","aantal":40},{"week":"2024-05","provincie":"Zeeland","aantal":40},{"week":"2024-06","provincie":"Zeeland","aantal":30},{"week":"2024-07","provincie":"Zeeland","aantal":40},{"week":"2024-08","provincie":"Zeeland","aantal":40},{"week":"2024-09","provincie":"Zeeland","aantal":50},{"week":"2024-10","provincie":"Zeeland","aantal":50},{"week":"2024-11","provincie":"Zeeland","aantal":60},{"week":"2024-12","provincie":"Zeeland","aantal":70},{"week":"2024-13","provincie":"Zeeland","aantal":60},{"week":"2024-14","provincie":"Zeeland","aantal":50},{"week":"2024-15","provincie":"Zeeland","aantal":60},{"week":"2024-16","provincie":"Zeeland","aantal":60},{"week":"2024-17","provincie":"Zeeland","aantal":40},{"week":"2024-18","provincie":"Zeeland","aantal":60},{"week":"2024-19","provincie":"Zeeland","aantal":50},{"week":"2024-20","provincie":"Zeeland","aantal":40},{"week":"2024-21","provincie":"Zeeland","aantal":40},{"week":"2024-22","provincie":"Zeeland","aantal":50},{"week":"2024-23","provincie":"Zeeland","aantal":50},{"week":"2024-24","provincie":"Zeeland","aantal":60},{"week":"2024-25","provincie":"Zeeland","aantal":60},{"week":"2024-26","provincie":"Zeeland","aantal":70},{"week":"2024-27","provincie":"Zeeland","aantal":60},{"week":"2024-28","provincie":"Zeeland","aantal":70},{"week":"2024-29","provincie":"Zeeland","aantal":80},{"week":"2024-30","provincie":"Zeeland","aantal":73},{"week":"2024-31","provincie":"Zeeland","aantal":80},{"week":"2024-32","provincie":"Zeeland","aantal":171},{"week":"2024-33","provincie":"Zeeland","aantal":235},{"week":"2024-34","provincie":"Zeeland","aantal":278},{"week":"2024-35","provincie":"Zeeland","aantal":450},{"week":"2024-36","provincie":"Zeeland","aantal":342},{"week":"2024-37","provincie":"Zeeland","aantal":256},{"week":"2024-38","provincie":"Zeeland","aantal":213},{"week":"2024-39","provincie":"Zeeland","aantal":128},{"week":"2024-40","provincie":"Zeeland","aantal":107},{"week":"2024-41","provincie":"Zeeland","aantal":93},{"week":"2024-42","provincie":"Zeeland","aantal":43},{"week":"2024-43","provincie":"Zeeland","aantal":43},{"week":"2024-44","provincie":"Zeeland","aantal":50},{"week":"2024-45","provincie":"Zeeland","aantal":43},{"week":"2024-46","provincie":"Zeeland","aantal":50}
]},
"mark": {"type": "line", "strokeWidth": 2.6, "strokeJoin": "round"},
"encoding": {
  "x": {"field": "week", "type": "ordinal", "sort": "ascending", "scale": {"type": "point", "padding": 0.5},
        "axis": {"title": null, "domain": false, "ticks": false, "grid": false, "labelAngle": 0, "labelFont": "DejaVu Sans", "labelFontSize": 16, "labelColor": "#595959", "labelPadding": 20,
                 "labelExpr": "toNumber(slice(datum.value, 5)) % 2 == 0 ? '' + toNumber(slice(datum.value, 5)) : ''"}},
  "y": {"field": "aantal", "type": "quantitative", "scale": {"domain": [0, 4500], "nice": false},
        "axis": {"title": null, "domain": false, "ticks": false, "values": [0,500,1000,1500,2000,2500,3000,3500,4000,4500], "gridColor": "#d9d9d9", "gridWidth": 1.5, "labelFont": "DejaVu Sans", "labelFontSize": 18, "labelColor": "#595959", "labelPadding": 20,
                 "labelExpr": "replace(format(datum.value, ','), ',', '.')"}},
  "color": {"field": "provincie", "type": "nominal",
    "scale": {"domain": ["Drenthe","Flevoland","Friesland","Gelderland","Groningen","Limburg","Noord-Brabant","Noord Holland","Overijssel","Zuid Holland","Utrecht","Zeeland"],
              "range": ["#8093d0","#c49a7e","#c8d200","#e87aa6","#f59d00","#b8afa5","#33418a","#7f4e3b","#7b7d00","#b42861","#9b6200","#777068"]},
    "legend": {"title": null, "orient": "none", "legendX": 18, "legendY": 387, "direction": "horizontal", "columns": 4, "gridAlign": "all", "columnPadding": 80, "rowPadding": 0,
               "symbolType": "stroke", "symbolSize": 2200, "symbolStrokeWidth": 3, "labelFont": "DejaVu Sans", "labelFontSize": 18, "labelColor": "#595959", "labelOffset": 8, "labelLimit": 300}}
},
"config": {"view": {"stroke": null}}
}
